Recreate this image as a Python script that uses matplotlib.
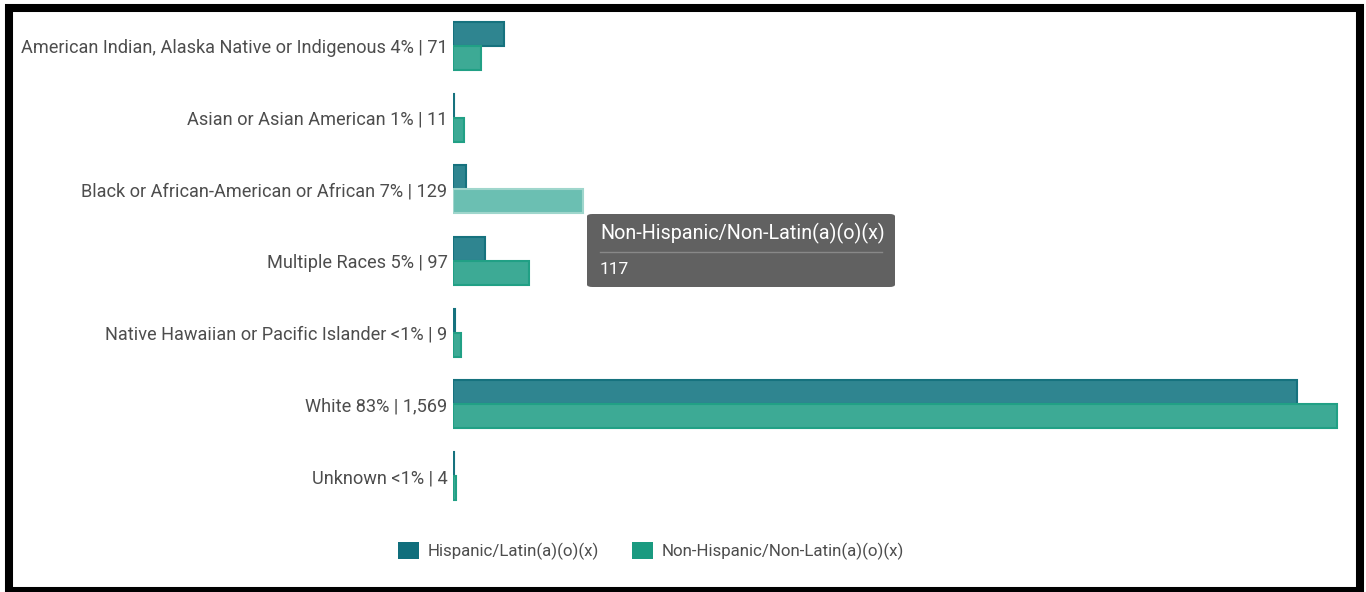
import matplotlib
matplotlib.use("Agg")
import matplotlib.pyplot as plt
from matplotlib.patches import Rectangle, FancyBboxPatch
from matplotlib.lines import Line2D
import numpy as np

plt.rcParams['font.family'] = ['Roboto', 'DejaVu Sans']

categories = [
    "American Indian, Alaska Native or Indigenous 4% | 71",
    "Asian or Asian American 1% | 11",
    "Black or African-American or African 7% | 129",
    "Multiple Races 5% | 97",
    "Native Hawaiian or Pacific Islander <1% | 9",
    "White 83% | 1,569",
    "Unknown <1% | 4",
]
hispanic = [46, 1, 12, 29, 2, 760, 1]
non_hispanic = [25, 10, 117, 68, 7, 796, 3]
series_names = ["Hispanic/Latin(a)(o)(x)", "Non-Hispanic/Non-Latin(a)(o)(x)"]
tooltip_title = "Non-Hispanic/Non-Latin(a)(o)(x)"
tooltip_value = "117"
highlight_index = 2

W, H = 1366, 592
fig = plt.figure(figsize=(W / 100, H / 100), dpi=100)
fig.patch.set_facecolor('white')

ax_l, ax_r, ax_t, ax_b = 453, 1340, 10, 512
ax = fig.add_axes([ax_l / W, 1 - ax_b / H, (ax_r - ax_l) / W, (ax_b - ax_t) / H])

y = np.arange(len(categories))
bh = 0.335
h_fill, h_edge = '#2f8590', '#16727e'
n_fill, n_edge = '#3daa95', '#21a085'
hl_fill, hl_edge = '#6bbfb2', '#9fd6cc'

ax.barh(y - bh / 2, hispanic, height=bh, color=h_fill, edgecolor=h_edge, linewidth=1.5)
nf = [hl_fill if i == highlight_index else n_fill for i in range(len(categories))]
ne = [hl_edge if i == highlight_index else n_edge for i in range(len(categories))]
ax.barh(y + bh / 2, non_hispanic, height=bh, color=nf, edgecolor=ne, linewidth=1.5)

ax.set_ylim(len(categories) - 0.5, -0.5)
ax.set_xlim(0, (ax_r - ax_l) / 1.111)
ax.set_yticks(y)
ax.set_yticklabels(categories, fontsize=13.1, color='#4d4d4d')
ax.tick_params(axis='y', length=0, pad=4)
ax.set_xticks([])
for s in ax.spines.values():
    s.set_visible(False)

# legend
handles = [Rectangle((0, 0), 1, 1, facecolor='#106e7c', edgecolor='none'),
           Rectangle((0, 0), 1, 1, facecolor='#1a9a80', edgecolor='none')]
leg = fig.legend(handles, series_names, loc='center', bbox_to_anchor=(651 / W, 1 - 551 / H),
                 ncol=2, frameon=False, fontsize=12.2, handlelength=1.2, handleheight=1.2,
                 handletextpad=0.5, columnspacing=2.0, labelcolor='#4d4d4d')

# tooltip
tx0, tx1, ty0, ty1 = 587, 895, 214, 287
tip = FancyBboxPatch((tx0 / W, 1 - ty1 / H), (tx1 - tx0) / W, (ty1 - ty0) / H,
                     boxstyle="round,pad=0,rounding_size=0.004", transform=fig.transFigure,
                     facecolor='#616161', edgecolor='none', zorder=10)
fig.add_artist(tip)
fig.text(600 / W, 1 - 233 / H, tooltip_title, color='white', fontsize=14.2, va='center', ha='left', zorder=11)
fig.add_artist(Line2D([600 / W, 882 / W], [1 - 252 / H, 1 - 252 / H], transform=fig.transFigure,
                      color='#888888', linewidth=1, zorder=11))
fig.text(600 / W, 1 - 269 / H, tooltip_value, color='white', fontsize=12.5, va='center', ha='left', zorder=11)

# frame
fig.add_artist(Rectangle((9 / W, 1 - 591 / H), (1360 - 9) / W, (591 - 8) / H, transform=fig.transFigure,
                         fill=False, edgecolor='black', linewidth=5.8, zorder=20))

fig.savefig('out.png', dpi=100, facecolor='white')
